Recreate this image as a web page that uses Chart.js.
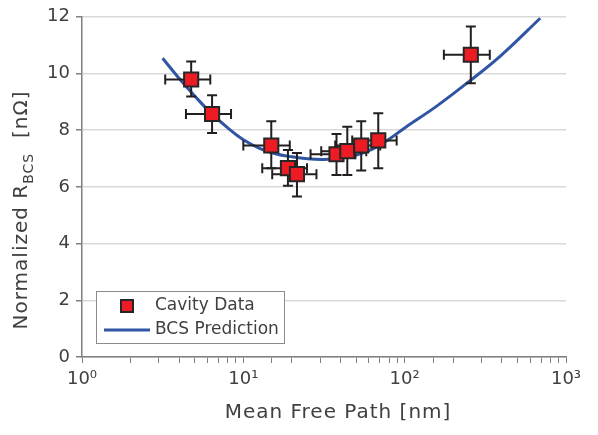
<!DOCTYPE html>
<html lang="en">
<head>
<meta charset="UTF-8">
<title>Normalized R_BCS vs Mean Free Path</title>
<script src="https://cdn.jsdelivr.net/npm/chart.js@4"></script>
<style>
  html, body { margin: 0; padding: 0; background: #fff; }
  #wrap { width: 598px; height: 435px; }
</style>
</head>
<body>
<div id="wrap"><canvas id="chart" width="598" height="435"></canvas></div>
<script>
// Cavity data (mean free path in nm, normalized R_BCS in nOhm)
const mfp     = [4.75, 6.4, 14.9, 18.9, 21.5, 37.8, 44.1, 53.8, 68.6, 257];
const mfpLow  = [3.28, 4.41, 10.0, 13.1, 15.1, 26.1, 30.4, 37.1, 47.3, 175];
const mfpHigh = [6.24, 8.39, 19.4, 24.8, 28.4, 49.5, 57.8, 70.5, 89.2, 337];
const rbcs     = [9.79, 8.57, 7.46, 6.66, 6.45, 7.15, 7.26, 7.46, 7.64, 10.66];
const rbcsLow  = [9.19, 7.9, 6.66, 6.04, 5.66, 6.42, 6.42, 6.58, 6.66, 9.66];
const rbcsHigh = [10.42, 9.23, 8.32, 7.3, 7.2, 7.87, 8.12, 8.32, 8.6, 11.66];

const bcsX = [3.16, 3.98, 5.01, 6.31, 7.94, 10, 12.6, 15.8, 20, 25.1, 31.6, 39.8, 50.1, 63.1, 79.4, 100, 158, 251, 398, 692];
const bcsY = [10.54, 9.84, 9.2, 8.6, 8.1, 7.66, 7.36, 7.17, 7.06, 6.99, 6.97, 7.01, 7.12, 7.33, 7.67, 8.08, 8.85, 9.72, 10.65, 11.95];

// axis ticks
const xMajor = [1, 10, 100, 1000];
const yTicks = [0, 2, 4, 6, 8, 10, 12];

const FONT = "'DejaVu Sans', sans-serif";
const TEXT = '#404040';
const AXIS = '#7f7f7f';
const sup = ['\u2070', '\u00b9', '\u00b2', '\u00b3'];

const cavity = mfp.map((x, i) => ({ x, y: rbcs[i] }));
const bcs = bcsX.map((x, i) => ({ x, y: bcsY[i] }));

// error bars drawn after the curve, before the squares
const errorBars = {
  id: 'errorBars',
  afterDatasetDraw(chart, args) {
    if (args.index !== 1) return;
    const { ctx, scales: { x, y } } = chart;
    ctx.save();
    ctx.strokeStyle = '#231f20';
    ctx.lineWidth = 2;
    const cap = 5;
    mfp.forEach((v, i) => {
      const px = x.getPixelForValue(v);
      const py = y.getPixelForValue(rbcs[i]);
      const x0 = x.getPixelForValue(mfpLow[i]);
      const x1 = x.getPixelForValue(mfpHigh[i]);
      const y0 = y.getPixelForValue(rbcsLow[i]);
      const y1 = y.getPixelForValue(rbcsHigh[i]);
      ctx.beginPath();
      ctx.moveTo(x0, py); ctx.lineTo(x1, py);
      ctx.moveTo(x0, py - cap); ctx.lineTo(x0, py + cap);
      ctx.moveTo(x1, py - cap); ctx.lineTo(x1, py + cap);
      ctx.moveTo(px, y0); ctx.lineTo(px, y1);
      ctx.moveTo(px - cap, y0); ctx.lineTo(px + cap, y0);
      ctx.moveTo(px - cap, y1); ctx.lineTo(px + cap, y1);
      ctx.stroke();
    });
    ctx.restore();
  }
};

// axis titles and legend box
const decorations = {
  id: 'decorations',
  afterDraw(chart) {
    const ctx = chart.ctx;
    ctx.save();
    ctx.fillStyle = TEXT;
    ctx.textBaseline = 'middle';
    ctx.letterSpacing = '1px';

    // x title
    ctx.font = '20px ' + FONT;
    ctx.textAlign = 'center';
    ctx.fillText('Mean Free Path [nm]', 338, 413);

    // y title with subscript
    ctx.translate(22, 210);
    ctx.rotate(-Math.PI / 2);
    const big = '20px ' + FONT, small = '14px ' + FONT;
    ctx.font = big;
    const w1 = ctx.measureText('Normalized R').width;
    const w3 = ctx.measureText('  [n\u03a9]').width;
    ctx.font = small;
    const w2 = ctx.measureText('BCS').width;
    let sx = -(w1 + w2 + w3) / 2;
    ctx.textAlign = 'left';
    ctx.font = big;
    ctx.fillText('Normalized R', sx, 0);
    sx += w1;
    ctx.font = small;
    ctx.fillText('BCS', sx, 7);
    sx += w2;
    ctx.font = big;
    ctx.fillText('  [n\u03a9]', sx, 0);
    ctx.setTransform(1, 0, 0, 1, 0, 0);
    ctx.letterSpacing = '0px';

    // legend
    ctx.fillStyle = '#fff';
    ctx.fillRect(97, 292, 188, 52);
    ctx.strokeStyle = '#8c8c8c';
    ctx.lineWidth = 1;
    ctx.strokeRect(96.5, 291.5, 188, 52);
    ctx.fillStyle = '#ed1c24';
    ctx.strokeStyle = '#262626';
    ctx.lineWidth = 2;
    ctx.fillRect(121, 300, 12, 12);
    ctx.strokeRect(121, 300, 12, 12);
    ctx.strokeStyle = '#2f55a4';
    ctx.lineWidth = 3;
    ctx.beginPath();
    ctx.moveTo(104, 330); ctx.lineTo(150, 330);
    ctx.stroke();
    ctx.fillStyle = TEXT;
    ctx.font = '17px ' + FONT;
    ctx.textAlign = 'left';
    ctx.fillText('Cavity Data', 155, 306);
    ctx.fillText('BCS Prediction', 155, 330);
    ctx.restore();
  }
};

new Chart(document.getElementById('chart'), {
  type: 'scatter',
  data: {
    datasets: [
      {
        label: 'Cavity Data',
        data: cavity,
        pointStyle: 'rect',
        pointRadius: 10,
        pointHoverRadius: 10,
        backgroundColor: '#ed1c24',
        borderColor: '#262626',
        borderWidth: 2
      },
      {
        label: 'BCS Prediction',
        data: bcs,
        showLine: true,
        pointRadius: 0,
        borderColor: '#2f55a4',
        borderWidth: 3,
        tension: 0.4,
        fill: false
      }
    ]
  },
  options: {
    responsive: false,
    animation: false,
    layout: { padding: { top: 15, right: 32, left: 0, bottom: 0 } },
    plugins: {
      legend: { display: false },
      tooltip: { enabled: false }
    },
    scales: {
      x: {
        type: 'logarithmic',
        min: 1,
        max: 1000,
        afterFit(scale) { scale.height = 78; },
        border: { color: AXIS, width: 1.5 },
        grid: { drawOnChartArea: false, tickLength: 6, tickColor: AXIS },
        ticks: {
          autoSkip: false,
          maxRotation: 0,
          padding: 6,
          color: TEXT,
          font: { size: 18, family: FONT },
          callback(value) {
            const k = xMajor.indexOf(value);
            return k >= 0 ? '10' + sup[k] : '';
          }
        }
      },
      y: {
        min: 0,
        max: 12,
        afterFit(scale) { scale.width = 82; },
        afterBuildTicks(scale) { scale.ticks = yTicks.map(v => ({ value: v })); },
        border: { color: AXIS, width: 1.5 },
        grid: { color: '#d9d9d9', lineWidth: 1.5, tickLength: 6, tickColor: AXIS },
        ticks: {
          padding: 6,
          color: TEXT,
          font: { size: 18, family: FONT }
        }
      }
    }
  },
  plugins: [errorBars, decorations]
});
</script>
</body>
</html>
